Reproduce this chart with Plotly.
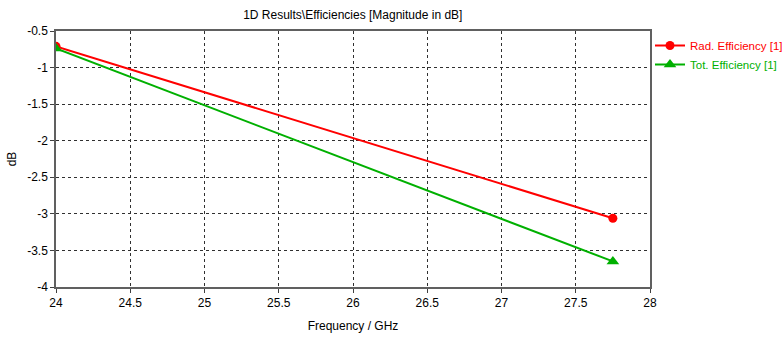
import plotly.graph_objects as go

freq = [24.0, 27.75]
rad_eff = [-0.71, -3.06]
tot_eff = [-0.74, -3.65]
x_ticks = [24, 24.5, 25, 25.5, 26, 26.5, 27, 27.5, 28]
y_ticks = [-0.5, -1, -1.5, -2, -2.5, -3, -3.5, -4]

FONT = "Liberation Sans, Arial, sans-serif"

fig = go.Figure()
fig.add_trace(go.Scatter(x=freq, y=rad_eff, mode="lines+markers", name="Rad. Efficiency [1]",
                         line=dict(color="#ff0000", width=2),
                         marker=dict(symbol="circle", size=9, color="#ff0000")))
fig.add_trace(go.Scatter(x=freq, y=tot_eff, mode="lines+markers", name="Tot. Efficiency [1]",
                         line=dict(color="#00b000", width=2),
                         marker=dict(symbol="triangle-up", size=11, color="#00b000")))

axis_common = dict(showline=True, linecolor="#606060", linewidth=1.5, mirror=True,
                   showgrid=True, gridcolor="#303030", griddash="dot", gridwidth=1,
                   ticks="outside", ticklen=4, tickcolor="#404040", zeroline=False,
                   automargin=False,
                   tickfont=dict(family=FONT, size=12, color="#000000"))

fig.update_xaxes(range=[24, 28], tickvals=x_ticks, ticktext=[str(v) for v in x_ticks],
                 title=dict(text="Frequency / GHz", font=dict(family=FONT, size=12, color="#000"), standoff=12),
                 **axis_common)
fig.update_yaxes(range=[-4, -0.5], tickvals=y_ticks, ticktext=[str(v) for v in y_ticks],
                 title=dict(text="dB", font=dict(family=FONT, size=12, color="#000"), standoff=8),
                 **axis_common)

fig.update_layout(
    width=784, height=339,
    paper_bgcolor="white", plot_bgcolor="white",
    margin=dict(l=56, r=134, t=31, b=52, autoexpand=False),
    title=dict(text="1D Results\\Efficiencies [Magnitude in dB]", x=0.45, xanchor="center",
               y=0.955, yanchor="middle", font=dict(family=FONT, size=12, color="#000")),
    legend=dict(x=1.0, y=1.0, xanchor="left", yanchor="top",
                font=dict(family=FONT, size=11.5), bgcolor="rgba(0,0,0,0)",
                itemwidth=30, tracegroupgap=4),
    font=dict(family=FONT),
)
fig.write_html("out.html", config={"displayModeBar": False}, post_script="""
document.body.style.margin = '0';
document.body.style.overflow = 'hidden';
var items = document.querySelectorAll('.legend .traces .legendtext');
var cols = ['#ff0000', '#00b000'];
items.forEach(function(el, i){ el.style.fill = cols[i]; });
""")
